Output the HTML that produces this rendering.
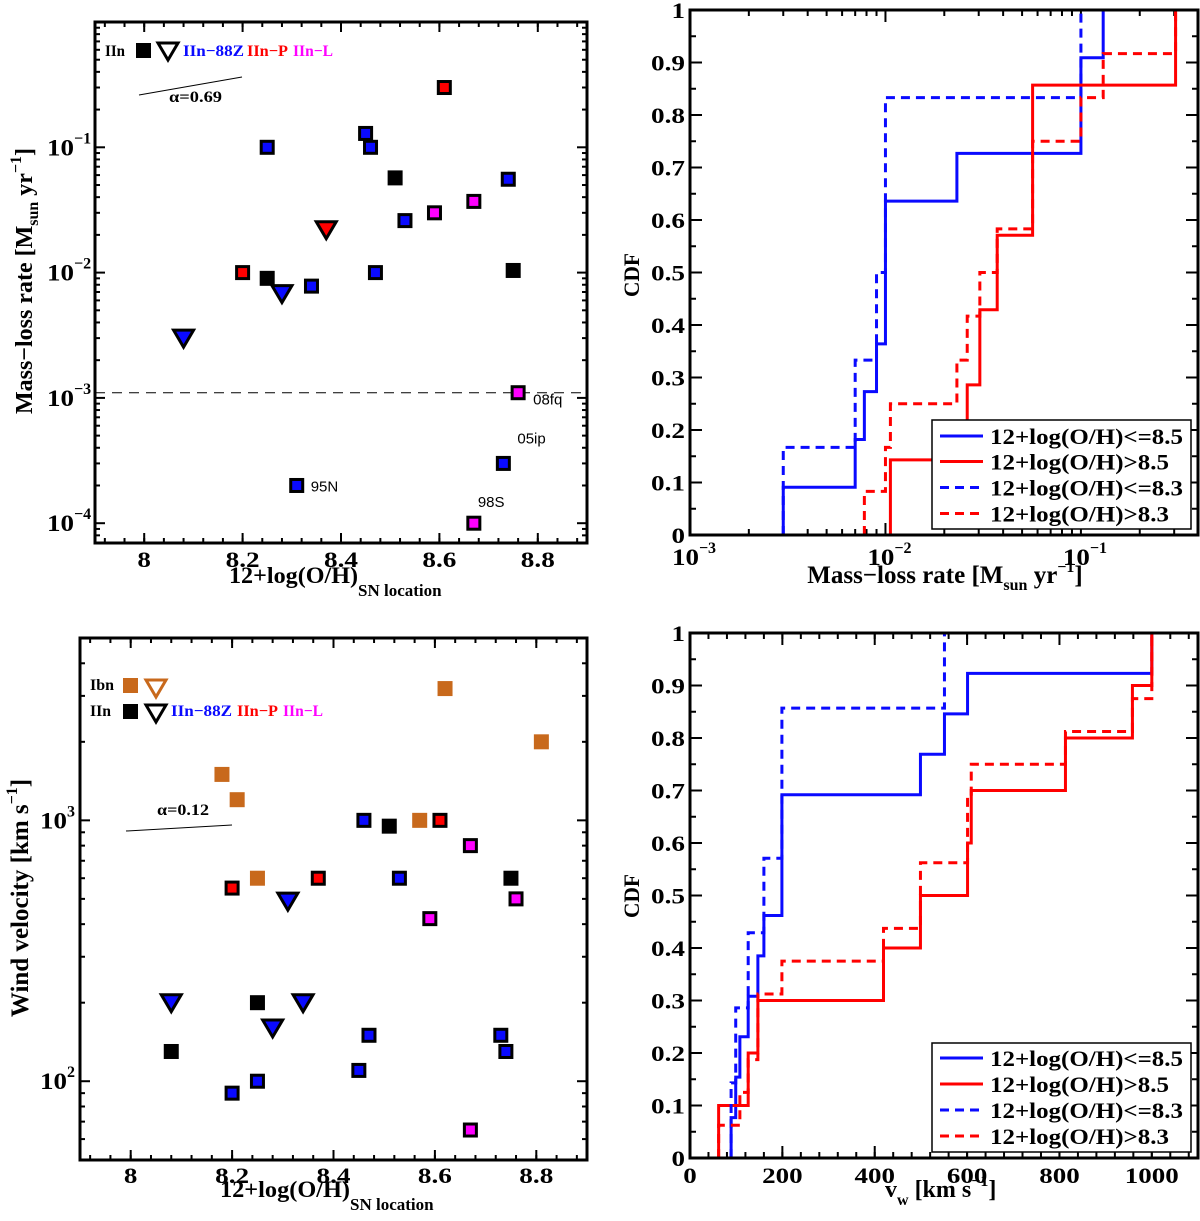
<!DOCTYPE html>
<html><head><meta charset="utf-8"><style>
html,body{margin:0;padding:0;background:#fff;}
svg{display:block;}
text{font-family:"Liberation Serif",serif;font-weight:bold;}
.sans{font-family:"Liberation Sans",sans-serif;font-weight:normal;}
</style></head><body>
<svg id="fig" width="1200" height="1221" viewBox="0 0 1200 1221" xmlns="http://www.w3.org/2000/svg"></svg>
<script>
// ---------- DATA ----------
// Panel 1: mass-loss rate vs metallicity
const mlrX = [8.51,8.25,8.75,8.20,8.61,8.25,8.45,8.46,8.53,8.47,8.34,8.74,8.31,8.73,8.59,8.67,8.76,8.67,8.08,8.28,8.37];
const mlrY = [0.057,0.009,0.0104,0.01,0.30,0.1,0.129,0.1,0.026,0.01,0.0078,0.0556,0.0002,0.0003,0.030,0.037,0.0011,0.0001,0.003,0.0068,0.022];
const mlrKind = ['k','k','k','r','r','b','b','b','b','b','b','b','b','b','m','m','m','m','tb','tb','tr'];
const mlrLabels = [{i:12,t:'95N'},{i:13,t:'05ip'},{i:17,t:'98S'},{i:16,t:'08fq'}];
const mlrThreshold = 0.0011;
// Panel 2: CDF of mass-loss rate
const cdfMlrBlueSolidX = [0.003,0.0070,0.0078,0.0090,0.010,0.0232,0.10,0.13];
const cdfMlrBlueSolidY = [0.091,0.182,0.273,0.364,0.636,0.727,0.909,1.0];
const cdfMlrBlueDashX = [0.003,0.0070,0.0090,0.010,0.10];
const cdfMlrBlueDashY = [0.167,0.333,0.5,0.833,1.0];
const cdfMlrRedSolidX = [0.0106,0.0262,0.0304,0.0373,0.0566,0.305];
const cdfMlrRedSolidY = [0.143,0.286,0.429,0.571,0.857,1.0];
const cdfMlrRedDashX = [0.0078,0.010,0.0106,0.0232,0.0262,0.0304,0.0373,0.0566,0.10,0.13,0.305];
const cdfMlrRedDashY = [0.083,0.167,0.25,0.333,0.417,0.5,0.583,0.75,0.833,0.917,1.0];
// Panel 3: wind velocity vs metallicity
const vwX = [8.62,8.81,8.18,8.21,8.57,8.25,8.46,8.51,8.61,8.67,8.53,8.75,8.37,8.20,8.76,8.59,8.31,8.08,8.34,8.28,8.25,8.08,8.47,8.73,8.74,8.45,8.25,8.20,8.67];
const vwY = [3200,2000,1500,1200,1000,600,1000,950,1000,800,600,600,600,550,500,420,490,200,200,160,200,130,150,150,130,110,100,90,65];
const vwKind = ['o','o','o','o','o','o','b','k','r','m','b','k','r','r','m','m','tb','tb','tb','tb','k','k','b','b','b','b','b','b','m'];
// Panel 4: CDF of wind velocity
const cdfVwBlueSolidX = [89,99,108,126,147,160,199,499,551,601,1000];
const cdfVwBlueSolidY = [0.077,0.154,0.231,0.308,0.385,0.462,0.692,0.769,0.846,0.923,1.0];
const cdfVwBlueDashX = [89,99,126,160,199,551];
const cdfVwBlueDashY = [0.143,0.286,0.429,0.571,0.857,1.0];
const cdfVwRedSolidX = [62,126,147,419,499,601,609,813,958,1000];
const cdfVwRedSolidY = [0.1,0.2,0.3,0.4,0.5,0.6,0.7,0.8,0.9,1.0];
const cdfVwRedDashX = [62,108,126,147,199,419,499,601,609,813,958,1000];
const cdfVwRedDashY = [0.0625,0.125,0.1875,0.3125,0.375,0.4375,0.5625,0.6875,0.75,0.8125,0.875,1.0];
const legendLabels = ['12+log(O/H)<=8.5','12+log(O/H)>8.5','12+log(O/H)<=8.3','12+log(O/H)>8.3'];

// ---------- HELPERS ----------
const NS='http://www.w3.org/2000/svg';
const svg=document.getElementById('fig');
function el(tag,attrs,parent){const e=document.createElementNS(NS,tag);for(const k in attrs)e.setAttribute(k,attrs[k]);(parent||svg).appendChild(e);return e;}
const COL={k:'#000',b:'#0a0aff',r:'#ff0000',m:'#ff00ff',o:'#c8691c'};
const lg=Math.log10;
function mkScale(a,b,p0,p1,log){const fa=log?lg(a):a,fb=log?lg(b):b;return v=>p0+((log?lg(v):v)-fa)/(fb-fa)*(p1-p0);}
function numW(s){let w=0;for(const c of s)w+=(c==='.'?7:13.5);return w;}

const P1={L:95,R:587,T:22,B:543};
P1.sx=mkScale(7.9,8.9,P1.L,P1.R,false); P1.sy=mkScale(Math.pow(10,-4.158),1,P1.B,P1.T,true);
const P2={L:690,R:1198,T:10,B:535};
P2.sx=mkScale(0.001,Math.pow(10,-0.401),P2.L,P2.R,true); P2.sy=mkScale(0,1,P2.B,P2.T,false);
const P3={L:80,R:587,T:638,B:1160};
P3.sx=mkScale(7.9,8.9,P3.L,P3.R,false); P3.sy=mkScale(Math.pow(10,1.698),Math.pow(10,3.699),P3.B,P3.T,true);
const P4={L:690,R:1198,T:633,B:1158};
P4.sx=mkScale(0,1100,P4.L,P4.R,false); P4.sy=mkScale(0,1,P4.B,P4.T,false);

function ticksX(P,vals,len,name){
  for(const v of vals){const x=P.sx(v); if(x<P.L+1||x>P.R-1)continue;
    const t1=el('line',{x1:x,y1:P.B,x2:x,y2:P.B-len,stroke:'#000','stroke-width':2});
    
    
    const t2=el('line',{x1:x,y1:P.T,x2:x,y2:P.T+len,stroke:'#000','stroke-width':2});
    
    }
}
function ticksY(P,vals,len,name){
  for(const v of vals){const y=P.sy(v); if(y<P.T+1||y>P.B-1)continue;
    const t1=el('line',{x1:P.L,y1:y,x2:P.L+len,y2:y,stroke:'#000','stroke-width':2});
    
    
    const t2=el('line',{x1:P.R,y1:y,x2:P.R-len,y2:y,stroke:'#000','stroke-width':2});
    
    }
}
function frame(P,name){const r=el('rect',{x:P.L,y:P.T,width:P.R-P.L,height:P.B-P.T,fill:'none',stroke:'#000','stroke-width':3});
  
  }
function range(a,b,s){const o=[];for(let v=a;v<=b+1e-9;v+=s)o.push(+v.toFixed(6));return o;}
function logMinor(d0,d1){const o=[];for(let d=d0;d<=d1;d++)for(let m=2;m<=9;m++)o.push(m*Math.pow(10,d));return o;}
function logMajor(d0,d1){const o=[];for(let d=d0;d<=d1;d++)o.push(Math.pow(10,d));return o;}
function txt(x,y,s,attrs,name){const t=el('text',Object.assign({x:x,y:y},attrs||{}));t.textContent=s;
  
  return t;}
function numLabel(x,y,s,anchor,name){return txt(x,y,s,{'font-size':22,'text-anchor':anchor,textLength:numW(s),lengthAdjust:'spacingAndGlyphs'},name);}
function powLabel(x,y,exp,anchor,name){const t=el('text',{x:x,y:y,'font-size':23,'text-anchor':anchor||'start'});
  
  
  const a=el('tspan',{textLength:27,lengthAdjust:'spacingAndGlyphs'},t);a.textContent='10';const b=el('tspan',{dy:-12,'font-size':16},t);b.textContent=exp;return t;}
function square(P,x,y,k,name){const cx=P.sx(x),cy=P.sy(y);let r;
  if(k==='k'){r=el('rect',{x:cx-7.5,y:cy-7.5,width:15,height:15,fill:'#000'});}
  else if(k==='o'){r=el('rect',{x:cx-7.5,y:cy-7.5,width:15,height:15,fill:COL.o});}
  else {r=el('rect',{x:cx-6,y:cy-6,width:12,height:12,fill:COL[k],stroke:'#000','stroke-width':3});}
  
  }
function tri(cx,cy,fill,stroke,name){const p=el('polygon',{points:`${cx-10},${cy-8} ${cx+10},${cy-8} ${cx},${cy+9}`,fill:fill,stroke:stroke,'stroke-width':3,'stroke-linejoin':'miter'});
  
  }
function marker(P,x,y,k,name){if(k[0]==='t'){tri(P.sx(x),P.sy(y),COL[k[1]],'#000',name);}else square(P,x,y,k,name);}
function stepPath(P,xs,ys,color,dash,name){let d=`M${P.sx(xs[0])},${P.sy(0)}`;
  for(let i=0;i<xs.length;i++){if(i>0)d+=` H${P.sx(xs[i])}`;d+=` V${P.sy(ys[i])}`;}
  const a={d:d,fill:'none',stroke:color,'stroke-width':3};if(dash)a['stroke-dasharray']='9,6';
  const p=el('path',a);
  
  }
function legendBox(P,x0,y0,ys,name){const g=el('g',{});
  
  
  el('rect',{x:x0,y:y0,width:259,height:109,fill:'#fff',stroke:'#000','stroke-width':1.5},g);
  const cols=['#0a0aff','#ff0000','#0a0aff','#ff0000'];
  for(let i=0;i<4;i++){const a={x1:940,x2:983,y1:ys[i],y2:ys[i],stroke:cols[i],'stroke-width':3};if(i>1)a['stroke-dasharray']='9,6';
    const l=el('line',a,g);
    
    
    const t=el('text',{x:990,y:ys[i]+8,'font-size':22,textLength:(i%2===0?193:179),lengthAdjust:'spacingAndGlyphs'},g);t.textContent=legendLabels[i];
    
    }
}

// ---------- PANEL 1 ----------
ticksX(P1,range(7.92,8.88,0.04),5,'x-minor-tick');
ticksX(P1,range(8,8.8,0.2),10,'x-major-tick');
ticksY(P1,logMinor(-5,-1),5,'y-minor-tick');
ticksY(P1,logMajor(-4,0),10,'y-major-tick');
frame(P1,'mass-loss-panel-frame');
for(const v of [8,8.2,8.4,8.6,8.8])numLabel(P1.sx(v),567,String(v),'middle','x-tick-label');
for(const e of [-4,-3,-2,-1])powLabel(47,P1.sy(Math.pow(10,e))+8,'−'+(-e),'start','y-tick-label');
{const d=P1.sy(mlrThreshold);const l=el('line',{x1:P1.L,x2:P1.R,y1:d,y2:d,stroke:'#000','stroke-width':1,'stroke-dasharray':'10,7'});
  
  }
for(let i=0;i<mlrX.length;i++)marker(P1,mlrX[i],mlrY[i],mlrKind[i],'mass-loss-point');
{const off={'95N':[14,6],'05ip':[14,-20],'98S':[4,-16],'08fq':[15,12]};
 for(const o of mlrLabels){const x=P1.sx(mlrX[o.i])+off[o.t][0],y=P1.sy(mlrY[o.i])+off[o.t][1];
   txt(x,y,o.t,{'font-size':15,'class':'sans'},'sn-label');}}
txt(105,56,'IIn',{'font-size':16,textLength:20,lengthAdjust:'spacingAndGlyphs'},'legend-iin');
{const r=el('rect',{x:136,y:43,width:15,height:15,fill:'#000'});}
tri(168,51,'#fff','#000','legend-triangle');
txt(183,56,'IIn−88Z',{'font-size':16,fill:'#0a0aff',textLength:61,lengthAdjust:'spacingAndGlyphs'},'legend-iin-88z');
txt(247,56,'IIn−P',{'font-size':16,fill:'#ff0000',textLength:41,lengthAdjust:'spacingAndGlyphs'},'legend-iin-p');
txt(293,56,'IIn−L',{'font-size':16,fill:'#ff00ff',textLength:40,lengthAdjust:'spacingAndGlyphs'},'legend-iin-l');
{const l=el('line',{x1:139,y1:95,x2:242,y2:77,stroke:'#000','stroke-width':1});}
txt(169,102,'α=0.69',{'font-size':16,textLength:53,lengthAdjust:'spacingAndGlyphs'},'slope-label');
{const t=el('text',{x:0,y:0,'font-size':24,'text-anchor':'middle',transform:'translate(32,281) rotate(-90)'});
 
 
 const a=el('tspan',{},t);a.textContent='Mass−loss rate [M';const b=el('tspan',{dy:6,'font-size':16},t);b.textContent='sun';
 const c=el('tspan',{dy:-6},t);c.textContent=' yr';const d=el('tspan',{dy:-11,'font-size':16},t);d.textContent='−1';const e=el('tspan',{dy:11},t);e.textContent=']';}
{const t=el('text',{x:229,y:583,'font-size':23});
 const a=el('tspan',{textLength:129,lengthAdjust:'spacingAndGlyphs'},t);a.textContent='12+log(O/H)';const b=el('tspan',{dy:13,'font-size':17},t);b.textContent='SN location';}

// ---------- PANEL 2 ----------
ticksX(P2,logMinor(-3,-1),6,'x-minor-tick');
ticksX(P2,logMajor(-3,-1),12,'x-major-tick');
ticksY(P2,range(0.05,0.95,0.1),6,'y-minor-tick');
ticksY(P2,range(0,1,0.1),12,'y-major-tick');
stepPath(P2,cdfMlrBlueSolidX,cdfMlrBlueSolidY,'#0a0aff',false,'cdf-low-z-8.5');
stepPath(P2,cdfMlrRedSolidX,cdfMlrRedSolidY,'#ff0000',false,'cdf-high-z-8.5');
stepPath(P2,cdfMlrBlueDashX,cdfMlrBlueDashY,'#0a0aff',true,'cdf-low-z-8.3');
stepPath(P2,cdfMlrRedDashX,cdfMlrRedDashY,'#ff0000',true,'cdf-high-z-8.3');
frame(P2,'mass-loss-cdf-frame');
for(const v of range(0,1,0.1))numLabel(685,P2.sy(v)+8,v===0?'0':v===1?'1':v.toFixed(1),'end','y-tick-label');
for(const e of [-3,-2,-1])powLabel(P2.sx(Math.pow(10,e))+4,565,'−'+(-e),'middle','x-tick-label');
legendBox(P2,932,420,[436,461.5,487.5,513.5],'legend');
txt(639,275,'CDF',{'font-size':22,'text-anchor':'middle',textLength:44,lengthAdjust:'spacingAndGlyphs',transform:'rotate(-90 639 275)'},'y-axis-title');
{const t=el('text',{x:945,y:583,'font-size':25,'text-anchor':'middle'});
 const a=el('tspan',{},t);a.textContent='Mass−loss rate [M';const b=el('tspan',{dy:7,'font-size':16},t);b.textContent='sun';
 const c=el('tspan',{dy:-7},t);c.textContent=' yr';const d=el('tspan',{dy:-11,'font-size':16},t);d.textContent='−1';const e=el('tspan',{dy:11},t);e.textContent=']';}

// ---------- PANEL 3 ----------
ticksX(P3,range(7.92,8.88,0.04),5,'x-minor-tick');
ticksX(P3,range(8,8.8,0.2),10,'x-major-tick');
ticksY(P3,logMinor(1,3),5,'y-minor-tick');
ticksY(P3,logMajor(2,3),10,'y-major-tick');
frame(P3,'wind-velocity-panel-frame');
for(const v of [8,8.2,8.4,8.6,8.8])numLabel(P3.sx(v),1183,String(v),'middle','x-tick-label');
for(const e of [2,3])powLabel(40,P3.sy(Math.pow(10,e))+8,String(e),'start','y-tick-label');
for(let i=0;i<vwX.length;i++)marker(P3,vwX[i],vwY[i],vwKind[i],'wind-velocity-point');
txt(90,690,'Ibn',{'font-size':16,textLength:24,lengthAdjust:'spacingAndGlyphs'},'legend-ibn');
{const r=el('rect',{x:123,y:678,width:15,height:15,fill:COL.o});}
tri(156,688,'#fff',COL.o,'legend-triangle-ibn');
txt(90,716,'IIn',{'font-size':16,textLength:21,lengthAdjust:'spacingAndGlyphs'},'legend-iin');
{const r=el('rect',{x:123,y:704,width:15,height:15,fill:'#000'});}
tri(156,713,'#fff','#000','legend-triangle');
txt(171,716,'IIn−88Z',{'font-size':16,fill:'#0a0aff',textLength:61,lengthAdjust:'spacingAndGlyphs'},'legend-iin-88z');
txt(237,716,'IIn−P',{'font-size':16,fill:'#ff0000',textLength:41,lengthAdjust:'spacingAndGlyphs'},'legend-iin-p');
txt(283,716,'IIn−L',{'font-size':16,fill:'#ff00ff',textLength:40,lengthAdjust:'spacingAndGlyphs'},'legend-iin-l');
{const l=el('line',{x1:126,y1:831,x2:232,y2:825,stroke:'#000','stroke-width':1});}
txt(157,815,'α=0.12',{'font-size':16,textLength:52,lengthAdjust:'spacingAndGlyphs'},'slope-label');
{const t=el('text',{x:0,y:0,'font-size':25,'text-anchor':'middle',transform:'translate(28,898) rotate(-90)'});
 
 const a=el('tspan',{},t);a.textContent='Wind velocity [km s';const d=el('tspan',{dy:-11,'font-size':16},t);d.textContent='−1';const e=el('tspan',{dy:11},t);e.textContent=']';}
{const t=el('text',{x:220,y:1197,'font-size':23});
 const a=el('tspan',{textLength:130,lengthAdjust:'spacingAndGlyphs'},t);a.textContent='12+log(O/H)';const b=el('tspan',{dy:13,'font-size':17},t);b.textContent='SN location';}

// ---------- PANEL 4 ----------
ticksX(P4,range(40,1080,40),6,'x-minor-tick');
ticksX(P4,range(0,1000,200),12,'x-major-tick');
ticksY(P4,range(0.05,0.95,0.1),6,'y-minor-tick');
ticksY(P4,range(0,1,0.1),12,'y-major-tick');
stepPath(P4,cdfVwBlueSolidX,cdfVwBlueSolidY,'#0a0aff',false,'cdf-low-z-8.5');
stepPath(P4,cdfVwRedSolidX,cdfVwRedSolidY,'#ff0000',false,'cdf-high-z-8.5');
stepPath(P4,cdfVwBlueDashX,cdfVwBlueDashY,'#0a0aff',true,'cdf-low-z-8.3');
stepPath(P4,cdfVwRedDashX,cdfVwRedDashY,'#ff0000',true,'cdf-high-z-8.3');
frame(P4,'wind-velocity-cdf-frame');
for(const v of range(0,1,0.1))numLabel(685,P4.sy(v)+8,v===0?'0':v===1?'1':v.toFixed(1),'end','y-tick-label');
for(const v of range(0,1000,200))numLabel(P4.sx(v),1183,String(v),'middle','x-tick-label');
legendBox(P4,932,1043,[1058,1084,1110,1136],'legend');
txt(639,896,'CDF',{'font-size':22,'text-anchor':'middle',textLength:44,lengthAdjust:'spacingAndGlyphs',transform:'rotate(-90 639 896)'},'y-axis-title');
{const t=el('text',{x:885,y:1197,'font-size':24});
 const a=el('tspan',{},t);a.textContent='v';const b=el('tspan',{dy:8,'font-size':16},t);b.textContent='w';
 const c=el('tspan',{dy:-8},t);c.textContent=' [km s';const d=el('tspan',{dy:-11,'font-size':16},t);d.textContent='−1';const e=el('tspan',{dy:11},t);e.textContent=']';}
</script>
</body></html>
